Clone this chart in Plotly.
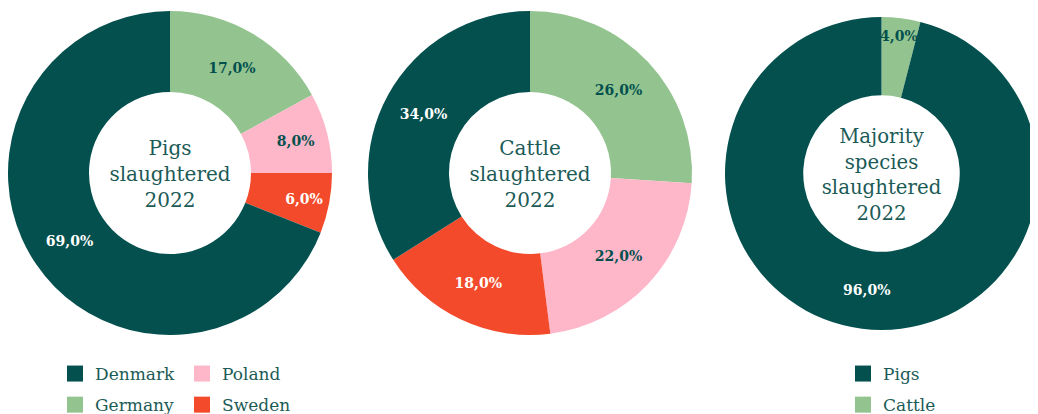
import plotly.graph_objects as go

# ---- data ----
countries = ["Germany", "Poland", "Sweden", "Denmark"]
pigs_share = [17.0, 8.0, 6.0, 69.0]
cattle_share = [26.0, 22.0, 18.0, 34.0]
species = ["Cattle", "Pigs"]
species_share = [4.0, 96.0]

country_legend_col1 = ["Denmark", "Germany"]
country_legend_col2 = ["Poland", "Sweden"]
species_legend = ["Pigs", "Cattle"]

titles = ["Pigs<br>slaughtered<br>2022", "Cattle<br>slaughtered<br>2022",
          "Majority<br>species<br>slaughtered<br>2022"]

# ---- styles ----
DARK = "#03504e"
TEXT = "#1c5b57"
colors = {"Denmark": DARK, "Germany": "#93c48f", "Poland": "#feb7c9",
          "Sweden": "#f24a2a", "Pigs": DARK, "Cattle": "#93c48f"}
label_col = {"Denmark": "white", "Germany": DARK, "Poland": DARK,
             "Sweden": "white", "Pigs": "white", "Cattle": DARK}
FONT = "DejaVu Serif"
# page has an 8px body margin: the figure is drawn at (8, 8)
OFF = 8
W, H = 1038 - OFF, 414 - OFF


def dom(x0, x1, y0, y1):
    # page pixel box -> figure paper fractions
    x0, x1, y0, y1 = x0 - OFF, x1 - OFF, y0 - OFF, y1 - OFF
    return dict(x=[max(x0 / W, 0), min(x1 / W, 1)], y=[1 - y1 / H, 1 - y0 / H])


fig = go.Figure()

pies = [
    (countries, pigs_share, titles[0], dom(8, 332, 11, 335)),
    (countries, cattle_share, titles[1], dom(368, 692, 11, 335)),
    (species, species_share, titles[2], dom(725, 1038, 17, 330)),
]
for labels, vals, title, d in pies:
    fig.add_trace(go.Pie(
        labels=labels, values=vals, sort=False, direction="clockwise",
        rotation=0, hole=0.5, domain=d, showlegend=False,
        marker=dict(colors=[colors[l] for l in labels], line=dict(width=0)),
        texttemplate="%{value:.1f}%", textposition="inside",
        insidetextorientation="horizontal",
        insidetextfont=dict(family=FONT, size=14, color=[label_col[l] for l in labels],
                            weight="bold"),
        title=dict(text=title, position="middle center",
                   font=dict(family=FONT, size=20, color=TEXT)),
        hoverinfo="label+percent",
    ))

# legend entries
for name in country_legend_col1:
    fig.add_trace(go.Scatter(x=[None], y=[None], mode="markers", name=name,
                             legend="legend", legendgroup=name,
                             marker=dict(symbol="square", size=16, color=colors[name])))
for name in country_legend_col2:
    fig.add_trace(go.Scatter(x=[None], y=[None], mode="markers", name=name,
                             legend="legend2", legendgroup=name,
                             marker=dict(symbol="square", size=16, color=colors[name])))
for name in species_legend:
    fig.add_trace(go.Scatter(x=[None], y=[None], mode="markers", name=name,
                             legend="legend3", legendgroup=name,
                             marker=dict(symbol="square", size=16, color=colors[name])))

leg = dict(orientation="v", yanchor="top", xanchor="left", y=1 - (356 - OFF) / H,
           font=dict(family=FONT, size=17, color=TEXT), tracegroupgap=6,
           bgcolor="rgba(0,0,0,0)", itemclick=False, itemdoubleclick=False)
fig.update_layout(
    width=W, height=H, margin=dict(l=0, r=0, t=0, b=0, autoexpand=False),
    paper_bgcolor="white", plot_bgcolor="white",
    separators=",.",
    uniformtext=dict(minsize=14, mode="show"),
    xaxis=dict(visible=False), yaxis=dict(visible=False),
    legend=dict(leg, x=47 / W),
    legend2=dict(leg, x=174 / W),
    legend3=dict(leg, x=835 / W),
)

fig.write_html("out.html")
